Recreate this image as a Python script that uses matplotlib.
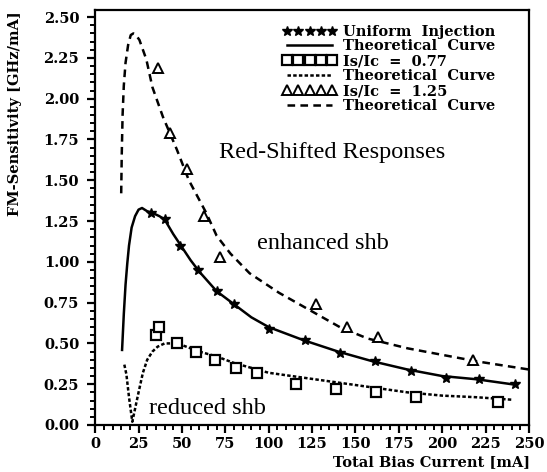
#!/usr/bin/env python3
# -*- coding: utf-8 -*-

"""
FM-sensitivity vs. total bias current, red-shifted responses.
"""

import matplotlib
matplotlib.use("Agg")
import matplotlib.pyplot as plt
from matplotlib.lines import Line2D
from matplotlib.ticker import MultipleLocator, FormatStrFormatter

# uniform injection (stars) + theory
stars_x = [32, 40, 49, 59, 70, 80, 100, 121, 141, 161, 182, 202, 221, 242]
stars_y = [1.30, 1.26, 1.10, 0.95, 0.82, 0.74, 0.59, 0.52, 0.44, 0.39, 0.33, 0.29, 0.28, 0.25]
solid_x = [15.5, 16.5, 17.5, 18.5, 19.5, 21, 23, 25, 27, 30, 33, 37, 40, 45, 50, 55, 60,
           70, 80, 90, 100, 120, 140, 160, 180, 200, 220, 240]
solid_y = [0.46, 0.68, 0.86, 0.99, 1.10, 1.21, 1.28, 1.32, 1.33, 1.31, 1.30, 1.28, 1.26,
           1.17, 1.09, 1.01, 0.94, 0.82, 0.74, 0.66, 0.60, 0.52, 0.45, 0.39, 0.34, 0.30,
           0.28, 0.25]

# Is/Ic = 0.77 (squares) + theory
sq_x = [35, 37, 47, 58, 69, 81, 93, 116, 139, 162, 185, 232]
sq_y = [0.55, 0.60, 0.50, 0.45, 0.40, 0.35, 0.32, 0.25, 0.22, 0.20, 0.17, 0.14]
dot_x = [16.8, 18, 19.5, 21.4, 23, 25, 27.5, 30, 33, 36, 40, 45, 50, 55, 60, 70, 80, 90,
         100, 120, 140, 160, 180, 200, 220, 240]
dot_y = [0.37, 0.31, 0.17, 0.02, 0.10, 0.20, 0.32, 0.40, 0.45, 0.48, 0.50, 0.50, 0.49,
         0.47, 0.45, 0.42, 0.38, 0.35, 0.32, 0.29, 0.26, 0.23, 0.20, 0.18, 0.17, 0.155]

# Is/Ic = 1.25 (triangles) + theory
tri_x = [36, 43, 53, 63, 72, 127, 145, 163, 218]
tri_y = [2.19, 1.79, 1.57, 1.28, 1.03, 0.74, 0.60, 0.54, 0.40]
dash_x = [15, 15.3, 15.8, 16.5, 17.5, 19, 20.5, 22, 23.5, 25.5, 29.5, 33, 39, 47, 54, 64,
          70, 78, 89, 106, 126, 141, 157, 180, 200, 220, 250]
dash_y = [1.42, 1.65, 1.90, 2.08, 2.22, 2.33, 2.39, 2.40, 2.39, 2.36, 2.24, 2.07, 1.89,
          1.69, 1.50, 1.30, 1.16, 1.05, 0.93, 0.81, 0.69, 0.60, 0.53, 0.47, 0.43, 0.39, 0.34]

legend_labels = ["Uniform  Injection", "Theoretical  Curve", "Is/Ic  =  0.77",
                 "Theoretical  Curve", "Is/Ic  =  1.25", "Theoretical  Curve"]

plt.rcParams["lines.scale_dashes"] = False
bold_font = dict(family="DejaVu Serif", weight="bold")
text_font = dict(family="Liberation Serif")

fig = plt.figure(figsize=(5.47, 4.72), dpi=100)
ax = fig.add_axes([0.174, 0.0996, 0.793, 0.879])

lw = 1.8
dotted = (0, (2.5, 1.6))
dashed = (0, (5.5, 3.8))

ax.plot(solid_x, solid_y, color="black", lw=lw)
ax.plot(dot_x, dot_y, color="black", lw=lw, linestyle=dotted)
ax.plot(dash_x, dash_y, color="black", lw=lw, linestyle=dashed)
ax.plot(stars_x, stars_y, linestyle="none", marker="*", ms=7.5, color="black")
ax.plot(sq_x, sq_y, linestyle="none", marker="s", ms=7, mfc="white", mec="black", mew=1.6)
ax.plot(tri_x, tri_y, linestyle="none", marker="^", ms=7, mfc="white", mec="black", mew=1.4)

ax.text(71.6, 1.67, "Red-Shifted Responses", fontsize=17.5, va="center", **text_font)
ax.text(93.5, 1.115, "enhanced shb", fontsize=17.5, va="center", **text_font)
ax.text(31.2, 0.104, "reduced shb", fontsize=17.5, va="center", **text_font)

ax.set_xlim(0, 250)
ax.set_ylim(0, 2.543)
ax.xaxis.set_major_locator(MultipleLocator(25))
ax.xaxis.set_minor_locator(MultipleLocator(5))
ax.yaxis.set_major_locator(MultipleLocator(0.25))
ax.yaxis.set_minor_locator(MultipleLocator(0.05))
ax.yaxis.set_major_formatter(FormatStrFormatter("%.2f"))
ax.tick_params(which="major", direction="out", length=6, width=1.6)
ax.tick_params(which="minor", direction="out", length=3.5, width=1.4)
ax.tick_params(axis="x", which="major", pad=2.5)
ax.tick_params(axis="y", which="major", pad=5.5)
for sp in ax.spines.values():
    sp.set_linewidth(1.6)
for lab in ax.get_xticklabels() + ax.get_yticklabels():
    lab.set_fontfamily("DejaVu Serif")
    lab.set_fontweight("bold")
    lab.set_fontsize(10.5)

# legend
handles = [
    Line2D([], [], linestyle="none", marker="*", ms=7, color="black"),
    Line2D([], [], color="black", lw=lw),
    Line2D([], [], linestyle="none", marker="s", ms=7, mfc="white", mec="black", mew=1.6),
    Line2D([], [], color="black", lw=lw, linestyle=dotted),
    Line2D([], [], linestyle="none", marker="^", ms=7, mfc="white", mec="black", mew=1.4),
    Line2D([], [], color="black", lw=lw, linestyle=dashed),
]
leg = ax.legend(handles, legend_labels, loc="upper left", bbox_to_anchor=(0.432, 0.965),
                frameon=False, numpoints=5, handlelength=3.7, handletextpad=0.45,
                labelspacing=0.06, borderpad=0, borderaxespad=0,
                prop=dict(family="DejaVu Serif", weight="bold", size=10.5))

fig.text(0.027, 0.76, "FM-Sensitivity [GHz/mA]", rotation=90, ha="center", va="center",
         fontsize=10.5, **bold_font)
fig.text(0.969, 0.02, "Total Bias Current [mA]", ha="right", va="center",
         fontsize=10.5, **bold_font)

fig.savefig("out.png", dpi=100)
